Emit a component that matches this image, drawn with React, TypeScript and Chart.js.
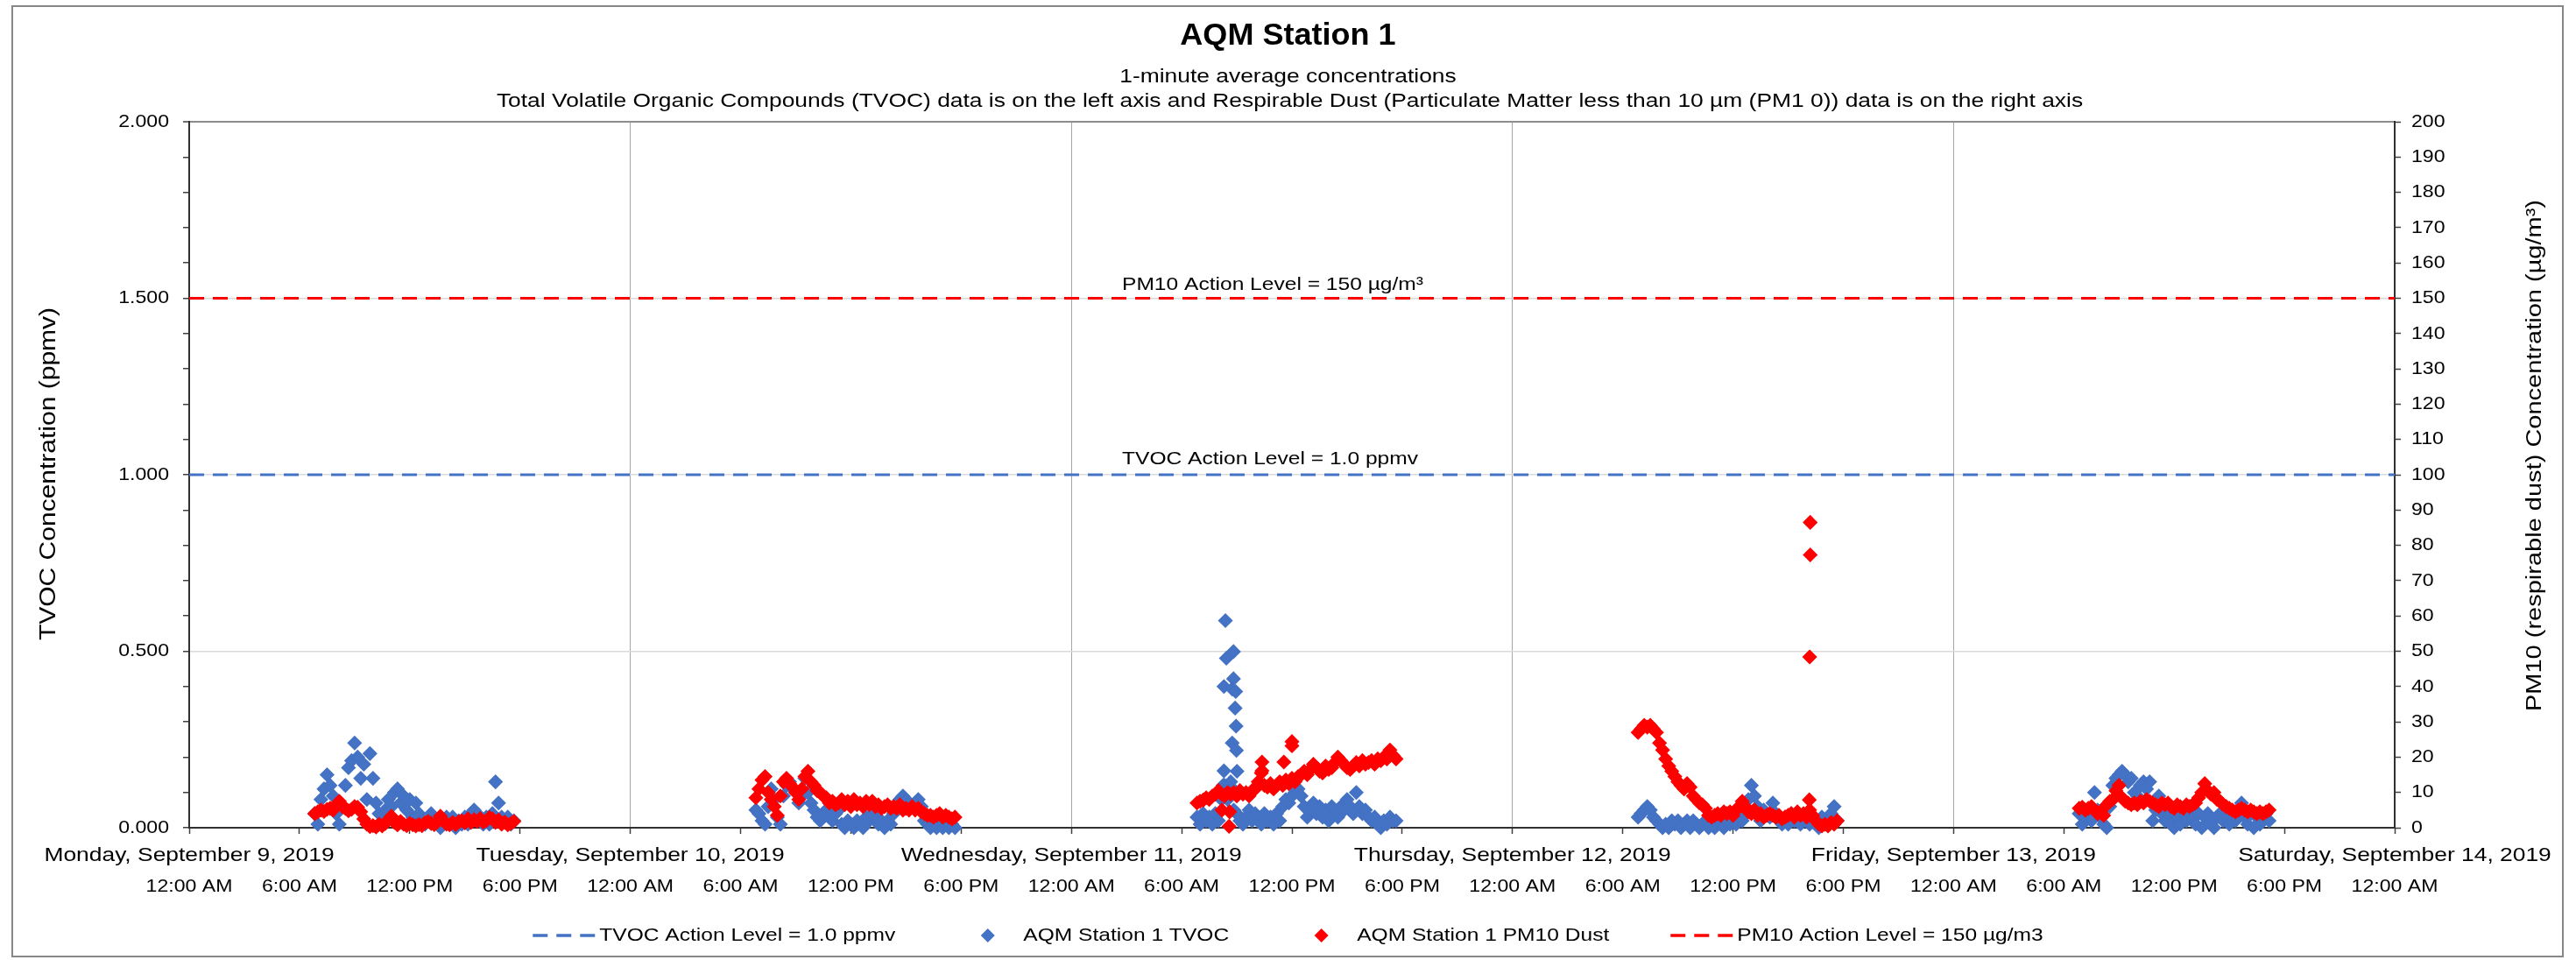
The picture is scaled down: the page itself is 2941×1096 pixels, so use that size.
import { useEffect, useRef } from "react";
import { Chart, registerables } from "chart.js";

Chart.register(...registerables);

// ---------- texts ----------
const CHART_TITLE = "AQM Station 1";
const SUBTITLE_1 = "1-minute average concentrations";
const SUBTITLE_2 =
  "Total Volatile Organic Compounds (TVOC) data is on the left axis and Respirable Dust (Particulate Matter less than 10 µm (PM1 0)) data is on the right axis";
const Y_LEFT_TITLE = "TVOC Concentration (ppmv)";
const Y_RIGHT_TITLE = "PM10 (respirable dust) Concentration (µg/m³)";
const DAY_LABELS = [
  "Monday, September 9, 2019",
  "Tuesday, September 10, 2019",
  "Wednesday, September 11, 2019",
  "Thursday, September 12, 2019",
  "Friday, September 13, 2019",
  "Saturday, September 14, 2019",
];
const TIME_LABELS = ["12:00 AM", "6:00 AM", "12:00 PM", "6:00 PM"];
const LEGEND_LABELS = [
  "TVOC Action Level = 1.0 ppmv",
  "AQM Station 1 TVOC",
  "AQM Station 1 PM10 Dust",
  "PM10 Action Level = 150 µg/m3",
];
const TVOC_ACTION_TEXT = "TVOC Action Level = 1.0 ppmv";
const PM10_ACTION_TEXT = "PM10 Action Level = 150 µg/m³";

// ---------- axis ranges ----------
const X_MAX_HOURS = 120; // Mon 00:00 -> Sat 00:00
const X_STEP_HOURS = 6;
const TVOC_MAX = 2;
const TVOC_STEP = 0.1;
const PM10_MAX = 200;
const PM10_STEP = 10;
const TVOC_ACTION_LEVEL = 1.0;
const PM10_ACTION_LEVEL = 150;

// ---------- data (1-minute data read every 10 minutes from 6:50 AM each day) ----------
const SESSION_START_MINUTE = 410;
const SAMPLE_STEP_MINUTES = 10;

const MON_TVOC = [0.04, 0.01, 0.08, 0.11, 0.15, 0.12, 0.09, 0.04, 0.01, 0.06, 0.12, 0.17, 0.19, 0.24, 0.2, 0.14, 0.18, 0.08, 0.21, 0.14, 0.07, 0.04, 0.02, 0.05, 0.08, 0.06, 0.1, 0.11, 0.07, 0.09, 0.05, 0.08, 0.03, 0.07, 0.04, 0.02, 0.01, 0.02, 0.04, 0.01, 0.02, 0.0, 0.01, 0.03, 0.02, 0.03, 0.0, 0.02, 0.01, 0.03, 0.01, 0.04, 0.05, 0.04, 0.03, 0.01, 0.03, 0.01, 0.04, 0.13, 0.07, 0.03, 0.02, 0.03, 0.01, 0.02];
const MON_PM10 = [4.0, 4.5, 5.0, 4.6, 5.2, 5.5, 5.0, 6.5, 7.5, 6.0, 5.5, 4.8, 5.2, 6.0, 5.8, 4.5, 2.5, 1.0, 0.3, 0.6, 0.2, 1.0, 0.5, 1.2, 2.2, 3.3, 1.5, 0.8, 1.8, 1.0, 0.6, 1.2, 0.8, 0.5, 0.9, 0.6, 1.4, 1.8, 1.2, 0.9, 1.6, 3.3, 2.0, 1.0, 0.8, 1.5, 0.9, 1.7, 2.0, 1.4, 2.5, 1.5, 2.3, 1.8, 2.6, 1.6, 2.0, 2.9, 2.5, 1.5, 2.2, 1.0, 1.6, 0.8, 1.2, 1.8];

const TUE_TVOC = [0.05, 0.04, 0.02, 0.01, 0.06, 0.11, 0.08, 0.03, 0.01, 0.09, 0.12, 0.13, 0.11, 0.1, 0.07, 0.09, 0.14, 0.1, 0.07, 0.05, 0.03, 0.02, 0.04, 0.05, 0.03, 0.02, 0.04, 0.05, 0.01, 0.0, 0.02, 0.01, 0.0, 0.02, 0.01, 0.0, 0.03, 0.02, 0.04, 0.03, 0.01, 0.02, 0.0, 0.02, 0.01, 0.04, 0.07, 0.08, 0.09, 0.08, 0.07, 0.06, 0.07, 0.08, 0.06, 0.02, 0.01, 0.0, 0.01, 0.0, 0.01, 0.0, 0.01, 0.0, 0.01, 0.0];
const TUE_PM10 = [8.5, 11.0, 13.5, 14.5, 10.0, 8.0, 6.0, 3.5, 9.0, 13.0, 14.0, 12.5, 11.5, 10.0, 8.0, 11.0, 14.5, 16.0, 13.0, 12.0, 10.5, 10.0, 9.0, 8.5, 7.0, 7.5, 6.5, 7.0, 8.0, 6.5, 7.5, 6.0, 8.0, 6.5, 7.0, 6.0, 7.5, 6.5, 7.5, 6.0, 6.5, 5.5, 6.0, 6.5, 5.5, 6.0, 5.5, 6.5, 5.0, 5.5, 5.0, 6.0, 5.0, 5.5, 4.5, 4.0, 3.5, 3.5, 3.0, 3.5, 4.0, 3.0, 3.5, 3.0, 2.5, 3.0];

const WED_TVOC = [0.03, 0.01, 0.04, 0.02, 0.03, 0.01, 0.04, 0.02, 0.08, 0.12, 0.08, 0.13, 0.05, 0.04, 0.02, 0.01, 0.03, 0.05, 0.02, 0.04, 0.03, 0.01, 0.04, 0.02, 0.03, 0.01, 0.04, 0.02, 0.06, 0.08, 0.07, 0.09, 0.1, 0.11, 0.09, 0.06, 0.03, 0.05, 0.07, 0.04, 0.06, 0.03, 0.05, 0.02, 0.06, 0.04, 0.03, 0.06, 0.05, 0.08, 0.06, 0.04, 0.1, 0.06, 0.04, 0.05, 0.03, 0.02, 0.03, 0.01, 0.0, 0.02, 0.01, 0.03, 0.02, 0.02];
const WED_PM10 = [7.0, 7.5, 7.8, 8.5, 8.0, 9.0, 9.5, 10.5, 9.5, 9.0, 10.0, 9.5, 10.0, 9.0, 10.5, 9.5, 10.0, 9.0, 10.5, 11.0, 13.0, 15.5, 12.0, 11.5, 12.5, 11.0, 12.0, 13.0, 12.0, 13.5, 12.5, 14.0, 13.0, 14.5, 15.0, 16.0, 15.0, 16.5, 18.0, 17.0, 16.0, 15.5, 17.5, 16.5, 17.0, 18.5, 20.0, 19.0, 18.0, 17.0, 16.5, 17.5, 18.5, 17.5, 19.0, 18.0, 18.5, 19.0, 18.0, 19.5, 19.0, 20.0, 19.5, 22.0, 20.5, 19.5];

const THU_TVOC = [0.03, 0.04, 0.05, 0.06, 0.05, 0.03, 0.02, 0.01, 0.0, 0.01, 0.0, 0.02, 0.01, 0.02, 0.0, 0.01, 0.02, 0.0, 0.02, 0.01, 0.0, 0.01, 0.02, 0.0, 0.01, 0.0, 0.02, 0.01, 0.0, 0.02, 0.01, 0.02, 0.01, 0.03, 0.02, 0.04, 0.08, 0.12, 0.09, 0.06, 0.02, 0.05, 0.04, 0.03, 0.07, 0.04, 0.02, 0.01, 0.03, 0.01, 0.04, 0.02, 0.03, 0.01, 0.02, 0.04, 0.01, 0.03, 0.02, 0.0, 0.03, 0.01, 0.02, 0.04, 0.06, 0.02];
const THU_PM10 = [27.0, 28.0, 29.0, 28.5, 29.0, 28.0, 27.0, 24.0, 22.0, 19.5, 17.5, 16.0, 14.5, 13.0, 12.0, 11.0, 12.5, 11.5, 9.0, 8.0, 7.0, 6.5, 5.5, 3.5, 3.0, 3.5, 4.0, 3.5, 4.5, 4.0, 4.5, 3.5, 5.0, 6.0, 7.5, 6.0, 4.5, 4.0, 5.0, 3.5, 4.0, 3.0, 3.5, 4.0, 3.5, 3.0, 3.5, 2.5, 3.0, 3.5, 4.0, 3.0, 4.5, 3.5, 4.0, 3.0, 5.0, 3.5, 2.0, 1.0, 0.5, 1.0, 0.5, 1.5, 1.0, 2.0];

const FRI_TVOC = [0.04, 0.01, 0.03, 0.05, 0.02, 0.1, 0.05, 0.03, 0.01, 0.0, 0.06, 0.12, 0.14, 0.15, 0.16, 0.15, 0.13, 0.14, 0.1, 0.09, 0.12, 0.13, 0.11, 0.13, 0.02, 0.05, 0.09, 0.04, 0.02, 0.04, 0.01, 0.0, 0.03, 0.01, 0.04, 0.02, 0.05, 0.03, 0.01, 0.04, 0.0, 0.03, 0.04, 0.01, 0.0, 0.03, 0.04, 0.02, 0.03, 0.01, 0.04, 0.02, 0.05, 0.07, 0.03, 0.01, 0.04, 0.0, 0.03, 0.01, 0.02, 0.04, 0.02];
const FRI_PM10 = [5.5, 5.8, 5.0, 5.5, 6.0, 5.0, 4.0, 4.5, 3.5, 6.5, 7.5, 8.0, 10.5, 12.0, 8.5, 7.5, 7.0, 6.5, 7.0, 6.5, 7.5, 7.0, 8.0, 7.5, 7.0, 6.5, 6.0, 7.0, 6.5, 7.0, 6.0, 5.5, 6.5, 6.0, 5.5, 6.5, 6.0, 6.5, 7.0, 8.5, 10.0, 12.5, 10.5, 9.5, 10.0, 8.0, 7.5, 6.5, 6.0, 5.5, 5.0, 4.5, 5.0, 5.5, 5.0, 4.5, 5.0, 4.5, 4.0, 4.5, 4.0, 4.5, 5.0];

// isolated readings (hours since Monday 00:00)
const TVOC_SPIKE_HOURS = [56.26, 56.3, 56.3, 56.38, 56.43, 56.75, 56.75, 56.75, 56.82, 56.82, 56.91, 56.94, 56.96, 56.98, 57.01];
const TVOC_SPIKE_VALUES = [0.12, 0.161, 0.4, 0.587, 0.48, 0.393, 0.24, 0.112, 0.499, 0.422, 0.339, 0.386, 0.288, 0.219, 0.16];
const PM10_SPIKE_HOURS = [56.19, 56.58, 56.61, 58.37, 58.37, 59.56, 60.0, 60.0, 88.15, 88.17, 88.2, 88.2];
const PM10_SPIKE_VALUES = [5.0, 0.4, 4.5, 18.6, 16.1, 18.6, 24.4, 23.2, 7.9, 48.4, 77.3, 86.5];

const TVOC_BY_DAY = [MON_TVOC, TUE_TVOC, WED_TVOC, THU_TVOC, FRI_TVOC];
const PM10_BY_DAY = [MON_PM10, TUE_PM10, WED_PM10, THU_PM10, FRI_PM10];

// ---------- colours ----------
const BLUE = "#4472C4";
const RED = "#FF0000";
const FONT = '"Liberation Sans", Arial, Helvetica, sans-serif';

type Pt = { x: number; y: number };

function buildPoints(byDay: number[][], spikeH: number[], spikeV: number[]): Pt[] {
  const pts: Pt[] = [];
  byDay.forEach((vals, d) => {
    vals.forEach((v, i) => {
      pts.push({ x: d * 24 + (SESSION_START_MINUTE + i * SAMPLE_STEP_MINUTES) / 60, y: v });
    });
  });
  spikeH.forEach((h, i) => pts.push({ x: h, y: spikeV[i] }));
  return pts;
}

function isMult(v: number, m: number) {
  const r = v / m;
  return Math.abs(r - Math.round(r)) < 1e-6;
}

type TOpts = { size: number; sx?: number; bold?: boolean; align?: CanvasTextAlign; rotate?: number; color?: string };
function drawText(ctx: CanvasRenderingContext2D, s: string, x: number, y: number, o: TOpts) {
  ctx.save();
  ctx.translate(x, y);
  ctx.scale(o.sx ?? 1, 1);
  if (o.rotate) ctx.rotate(o.rotate);
  ctx.font = `${o.bold ? "bold " : ""}${o.size}px ${FONT}`;
  ctx.textAlign = o.align ?? "center";
  ctx.textBaseline = "middle";
  ctx.fillStyle = o.color ?? "#000";
  ctx.fillText(s, 0, 0);
  ctx.restore();
}
function textWidth(ctx: CanvasRenderingContext2D, s: string, size: number, sx: number) {
  ctx.save();
  ctx.font = `${size}px ${FONT}`;
  const w = ctx.measureText(s).width * sx;
  ctx.restore();
  return w;
}

const decorPlugin = {
  id: "decor",
  afterDraw(chart: any) {
    const ctx: CanvasRenderingContext2D = chart.ctx;
    const xs = chart.scales.x;
    const yl = chart.scales.y;
    const yr = chart.scales.y1;
    const area = chart.chartArea;
    const W = chart.width;
    const H = chart.height;
    const cx = W / 2;

    // outer chart border
    ctx.save();
    ctx.strokeStyle = "#878787";
    ctx.lineWidth = 2;
    ctx.strokeRect(14, 7, W - 29, H - 11);
    ctx.restore();

    // titles
    drawText(ctx, CHART_TITLE, cx, 41, { size: 35, bold: true, sx: 1.03 });
    drawText(ctx, SUBTITLE_1, cx, 88, { size: 22, sx: 1.2 });
    drawText(ctx, SUBTITLE_2, cx + 2, 116, { size: 22, sx: 1.2 });

    // left tick labels
    yl.ticks.forEach((t: any) => {
      if (isMult(t.value, 0.5)) {
        drawText(ctx, t.value.toFixed(3), area.left - 23, yl.getPixelForValue(t.value), { size: 21, sx: 1.1, align: "right" });
      }
    });
    // right tick labels
    yr.ticks.forEach((t: any) => {
      drawText(ctx, String(Math.round(t.value)), area.right + 19, yr.getPixelForValue(t.value), { size: 21, sx: 1.1, align: "left" });
    });
    // x labels
    xs.ticks.forEach((t: any) => {
      const h = Math.round(t.value);
      const px = xs.getPixelForValue(h);
      drawText(ctx, TIME_LABELS[(h / X_STEP_HOURS) % 4], px, 1012, { size: 21, sx: 1.1 });
      if (h % 24 === 0) drawText(ctx, DAY_LABELS[h / 24], px, 977, { size: 22, sx: 1.2 });
    });

    // axis titles
    drawText(ctx, Y_LEFT_TITLE, 56, 541, { size: 30, sx: 0.85, rotate: -Math.PI / 2 });
    drawText(ctx, Y_RIGHT_TITLE, 2894, 520, { size: 29, sx: 0.85, rotate: -Math.PI / 2 });

    // action level labels
    drawText(ctx, PM10_ACTION_TEXT, 1281, yr.getPixelForValue(PM10_ACTION_LEVEL) - 15, { size: 21, sx: 1.17, align: "left" });
    drawText(ctx, TVOC_ACTION_TEXT, 1281, yl.getPixelForValue(TVOC_ACTION_LEVEL) - 18, { size: 21, sx: 1.17, align: "left" });

    // legend
    const LSX = 1.17;
    const LSIZE = 21;
    const SYM = 71;
    const SGAP = 5;
    const IGAP = 70;
    const widths = LEGEND_LABELS.map((s) => textWidth(ctx, s, LSIZE, LSX));
    const total = widths.reduce((a, b) => a + b, 0) + LEGEND_LABELS.length * (SYM + SGAP) + (LEGEND_LABELS.length - 1) * IGAP;
    let lx = cx - total / 2;
    const ly = 1068;
    const kinds = ["dash", "diamond", "diamond", "dash"];
    const cols = [BLUE, BLUE, RED, RED];
    LEGEND_LABELS.forEach((s, i) => {
      ctx.save();
      if (kinds[i] === "dash") {
        ctx.strokeStyle = cols[i];
        ctx.lineWidth = 3.5;
        ctx.setLineDash([17, 10]);
        ctx.beginPath();
        ctx.moveTo(lx, ly);
        ctx.lineTo(lx + SYM, ly);
        ctx.stroke();
      } else {
        const mx = lx + SYM / 2;
        const r = 8;
        ctx.fillStyle = cols[i];
        ctx.beginPath();
        ctx.moveTo(mx - r, ly);
        ctx.lineTo(mx, ly - r);
        ctx.lineTo(mx + r, ly);
        ctx.lineTo(mx, ly + r);
        ctx.closePath();
        ctx.fill();
      }
      ctx.restore();
      drawText(ctx, s, lx + SYM + SGAP, ly, { size: LSIZE, sx: LSX, align: "left" });
      lx += SYM + SGAP + widths[i] + IGAP;
    });
  },
};

export default function App() {
  const ref = useRef<HTMLCanvasElement | null>(null);

  useEffect(() => {
    document.body.style.margin = "0";
    const canvas = ref.current;
    if (!canvas) return;

    const tvocPts = buildPoints(TVOC_BY_DAY, TVOC_SPIKE_HOURS, TVOC_SPIKE_VALUES);
    const pmPts = buildPoints(PM10_BY_DAY, PM10_SPIKE_HOURS, PM10_SPIKE_VALUES);

    const chart = new Chart(canvas, {
      type: "scatter",
      data: {
        datasets: [
          {
            type: "line",
            label: LEGEND_LABELS[0],
            data: [
              { x: 0, y: TVOC_ACTION_LEVEL },
              { x: X_MAX_HOURS, y: TVOC_ACTION_LEVEL },
            ],
            borderColor: BLUE,
            borderWidth: 3,
            borderDash: [17, 10],
            pointRadius: 0,
            fill: false,
            yAxisID: "y",
            order: 3,
          },
          {
            label: LEGEND_LABELS[1],
            data: tvocPts,
            backgroundColor: BLUE,
            borderColor: BLUE,
            borderWidth: 1.5,
            pointStyle: "rectRot",
            pointRadius: 7.5,
            yAxisID: "y",
            order: 1,
            clip: false,
          },
          {
            label: LEGEND_LABELS[2],
            data: pmPts,
            backgroundColor: RED,
            borderColor: RED,
            borderWidth: 1.5,
            pointStyle: "rectRot",
            pointRadius: 7.5,
            yAxisID: "y1",
            order: 0,
            clip: false,
          },
          {
            type: "line",
            label: LEGEND_LABELS[3],
            data: [
              { x: 0, y: PM10_ACTION_LEVEL },
              { x: X_MAX_HOURS, y: PM10_ACTION_LEVEL },
            ],
            borderColor: RED,
            borderWidth: 3,
            borderDash: [17, 10],
            pointRadius: 0,
            fill: false,
            yAxisID: "y1",
            order: 2,
          },
        ] as any,
      },
      options: {
        animation: false,
        responsive: false,
        maintainAspectRatio: false,
        events: [],
        layout: { padding: { top: 139, left: 0, right: 0, bottom: 0 } },
        plugins: {
          legend: { display: false },
          tooltip: { enabled: false },
          title: { display: false },
        },
        scales: {
          x: {
            type: "linear",
            min: 0,
            max: X_MAX_HOURS,
            ticks: { stepSize: X_STEP_HOURS, display: false },
            grid: {
              color: (c: any) => (c.tick && isMult(c.tick.value, 24) ? "#a6a6a6" : "rgba(0,0,0,0)"),
              lineWidth: 1,
              drawTicks: true,
              tickLength: 7,
              tickColor: "#404040",
              tickWidth: 1.5,
            },
            border: { display: true, color: "#303030", width: 2 },
            afterFit: (s: any) => {
              s.height = 151;
            },
          },
          y: {
            type: "linear",
            position: "left",
            min: 0,
            max: TVOC_MAX,
            ticks: { stepSize: TVOC_STEP, display: false },
            grid: {
              color: (c: any) => {
                const v = c.tick ? c.tick.value : 0;
                if (Math.abs(v - TVOC_MAX) < 1e-6) return "#8c8c8c";
                if (v > 1e-6 && isMult(v, 0.5)) return "#d9d9d9";
                return "rgba(0,0,0,0)";
              },
              lineWidth: (c: any) => {
                const v = c.tick ? c.tick.value : 0;
                return Math.abs(v - TVOC_MAX) < 1e-6 ? 2 : 1.5;
              },
              drawTicks: true,
              tickLength: 7,
              tickColor: "#404040",
              tickWidth: 1.5,
            },
            border: { display: true, color: "#303030", width: 2 },
            afterFit: (s: any) => {
              s.width = 216;
            },
          },
          y1: {
            type: "linear",
            position: "right",
            min: 0,
            max: PM10_MAX,
            ticks: { stepSize: PM10_STEP, display: false },
            grid: {
              drawOnChartArea: false,
              drawTicks: true,
              tickLength: 7,
              tickColor: "#404040",
              tickWidth: 1.5,
            },
            border: { display: true, color: "#303030", width: 2 },
            afterFit: (s: any) => {
              s.width = 2941 - 2734;
            },
          },
        },
      } as any,
      plugins: [decorPlugin],
    });

    return () => chart.destroy();
  }, []);

  return (
    <canvas
      ref={ref}
      width={2941}
      height={1096}
      style={{ display: "block", width: "2941px", height: "1096px", background: "#fff" }}
    />
  );
}
